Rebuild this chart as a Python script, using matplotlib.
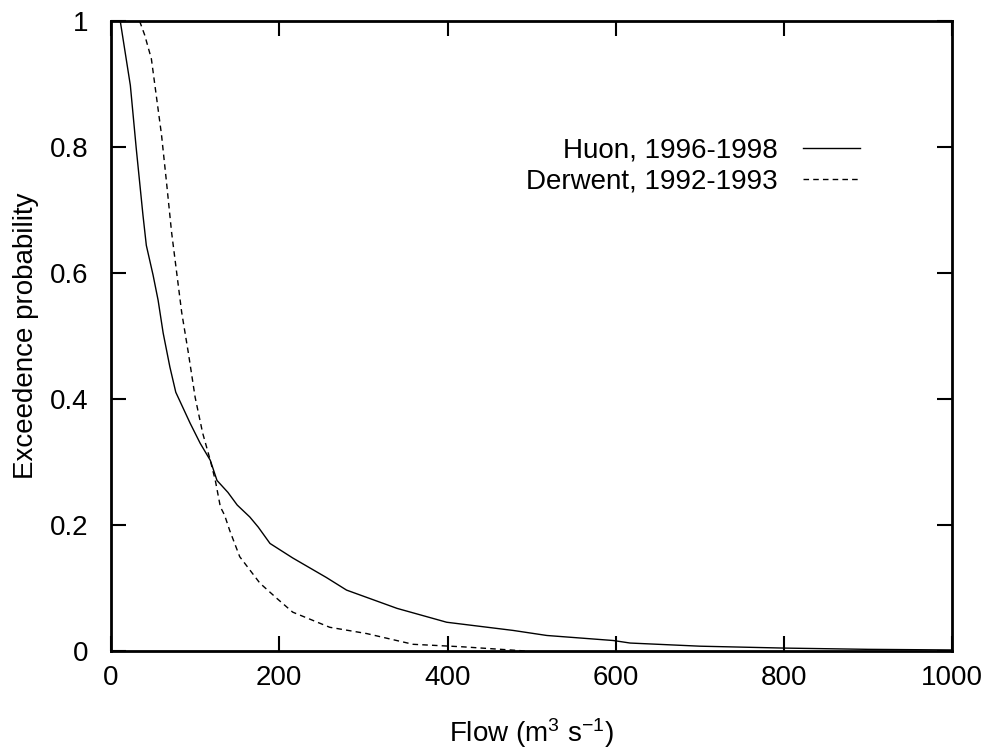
import matplotlib
matplotlib.use('Agg')
from matplotlib import pyplot as plt

plt.rcParams['font.family'] = ['Liberation Sans', 'DejaVu Sans']
plt.rcParams['mathtext.default'] = 'regular'

# flow duration curves
huon_flow = [11, 23, 30, 38, 42, 50, 56, 62, 70, 77, 94, 106, 118, 126, 139, 150, 165,
             175, 189, 216, 256, 280, 340, 399, 478, 518, 597, 617, 700, 800, 900, 1000]
huon_prob = [1.0, 0.898, 0.798, 0.692, 0.644, 0.597, 0.557, 0.505, 0.451, 0.411, 0.362,
             0.33, 0.303, 0.271, 0.252, 0.232, 0.213, 0.197, 0.171, 0.148, 0.117, 0.097,
             0.068, 0.046, 0.033, 0.025, 0.017, 0.013, 0.008, 0.005, 0.003, 0.002]

derwent_flow = [34, 40, 48, 52, 60, 66, 72, 84, 92, 100, 109, 118, 124, 130, 135, 141,
                153, 177, 197, 216, 260, 304, 359, 418, 486, 495]
derwent_prob = [1.0, 0.978, 0.94, 0.9, 0.82, 0.744, 0.665, 0.538, 0.473, 0.403, 0.346,
                0.303, 0.271, 0.229, 0.216, 0.192, 0.15, 0.108, 0.084, 0.062, 0.038,
                0.028, 0.011, 0.007, 0.001, 0.0]

fig, ax = plt.subplots(figsize=(9.91, 7.52), dpi=100)
fig.subplots_adjust(left=0.112, right=0.961, top=0.972, bottom=0.134)

ax.plot(huon_flow, huon_prob, color='black', lw=1.0, label='Huon, 1996-1998')
ax.plot(derwent_flow, derwent_prob, color='black', lw=1.0, ls=(0, (4, 3)),
        label='Derwent, 1992-1993')

ax.set_xlim(0, 1000)
ax.set_ylim(0, 1)
ax.set_xticks([0, 200, 400, 600, 800, 1000])
ax.set_yticks([0, 0.2, 0.4, 0.6, 0.8, 1])
ax.set_yticklabels(['0', '0.2', '0.4', '0.6', '0.8', '1'])
ax.tick_params(direction='in', length=11, width=1.5, top=True, right=True,
               labelsize=20)
ax.tick_params(axis='x', pad=10)
ax.tick_params(axis='y', pad=16)
for s in ax.spines.values():
    s.set_linewidth(2)

ax.set_xlabel('Flow (m$^{3}$ s$^{-1}$)', fontsize=20, labelpad=18)
ax.set_ylabel('Exceedence probability', fontsize=20, labelpad=8)

ax.legend(loc='upper right', bbox_to_anchor=(0.92, 0.855), frameon=False,
          markerfirst=False, fontsize=20, handlelength=2.05, handletextpad=0.9,
          labelspacing=0.2)

plt.savefig('out.png')
